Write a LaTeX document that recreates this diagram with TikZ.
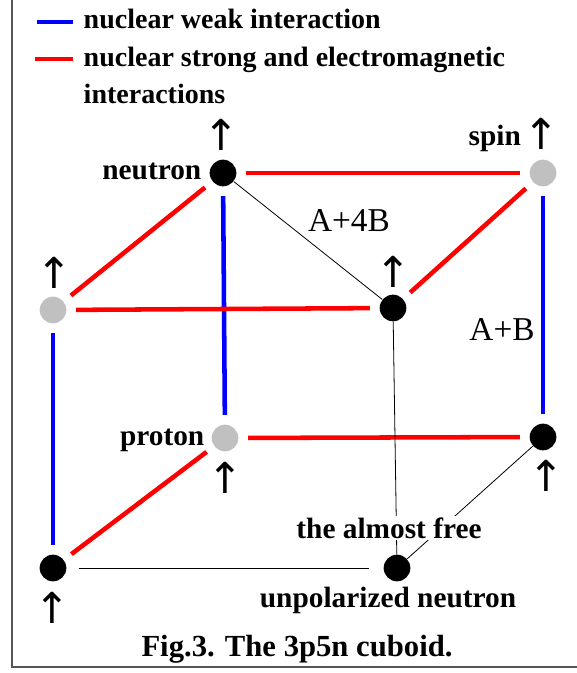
\documentclass[tikz,border=0pt]{standalone}
\usepackage{fontspec}
\setmainfont{Liberation Serif}
\newfontfamily\arrowfont{DejaVu Sans}
\usetikzlibrary{positioning}
\definecolor{wblue}{HTML}{0000FF}
\definecolor{sred}{HTML}{FF0000}
\definecolor{pgrey}{HTML}{C0C0C0}
\definecolor{frame}{HTML}{555555}
\tikzset{
  every picture/.style={line width=0.6pt},
  nucleon/.style={circle, fill=#1, minimum size=20pt, inner sep=0pt},
  nucleon/.default=black,
  weak/.style={draw=wblue, line width=3.4pt, shorten <=7pt, shorten >=7pt},
  strong/.style={draw=sred, line width=3.4pt, shorten <=7pt, shorten >=7pt},
  link/.style={draw=black, line width=0.6pt},
  legend/.style={font=\fontsize{21}{25}\selectfont\bfseries, inner sep=1pt},
  lbl/.style={font=\fontsize{22}{26}\selectfont\bfseries, inner sep=1pt},
  spinup/.style={font=\fontsize{32}{34}\arrowfont, inner sep=0pt},
  energy/.style={font=\fontsize{25}{30}\selectfont, inner sep=1pt},
}

\begin{document}
\begin{tikzpicture}[x=0.75pt, y=-0.75pt]
  \useasboundingbox (0,0) rectangle (576,673);
  \draw[frame, line width=1.5pt] (12,-5) rectangle (590,667);
  % legend
  \coordinate (lw1) at (37,22);
  \coordinate (lw2) at (73,22);
  \coordinate (ls1) at (35,59);
  \coordinate (ls2) at (73,59);
  \draw[weak, shorten <=0pt, shorten >=0pt] (lw1) -- (lw2);
  \draw[strong, shorten <=0pt, shorten >=0pt] (ls1) -- (ls2);
  \node[legend, anchor=base west] (lweak) at (82,29) {nuclear weak interaction};
  \node[legend, anchor=base west] (lstrong) at (82,67) {nuclear strong and electromagnetic};
  \node[legend, anchor=base west] (lstrong2) at (82,104) {interactions};

  % the eight corners
  \node[nucleon] (btl) at (223,173) {};
  \node[nucleon=pgrey] (btr) at (543,173) {};
  \node[nucleon=pgrey] (ftl) at (53,310) {};
  \node[nucleon] (ftr) at (393,308) {};
  \node[nucleon=pgrey] (bbl) at (225,438) {};
  \node[nucleon] (bbr) at (543,437) {};
  \node[nucleon] (fbl) at (53,568) {};
  \node[nucleon] (fbr) at (397,568) {};

  % bonds
  \draw[weak] (btl) -- (bbl);
  \draw[weak] (btr) -- (bbr);
  \draw[weak] (ftl) -- (fbl);
  \draw[strong] (btl) -- (btr);
  \draw[strong] (ftl) -- (ftr);
  \draw[strong] (bbl) -- (bbr);
  \draw[strong] (btl) -- (ftl);
  \draw[strong] (btr) -- (ftr);
  \draw[strong] (bbl) -- (fbl);
  \draw[link] (btl) -- (ftr);
  \draw[link] (ftr) -- (fbr);
  \draw[link] (bbr) -- (fbr);
  \draw[link, shorten <=9pt, shorten >=11pt] (fbl) -- (fbr);

  % labels
  \node[lbl, anchor=base east] (tneutron) at (203,180) {neutron};
  \node[lbl, anchor=base east] (tproton) at (206,445) {proton};
  \node[lbl, anchor=base west] (tspin) at (467,146) {spin};
  \node[spinup] (up0) at (541,134) {↑};
  \node[spinup] (up1) at (221,135) {↑};
  \node[spinup] (up2) at (54,273) {↑};
  \node[spinup] (up3) at (393,272) {↑};
  \node[spinup] (up4) at (225,478) {↑};
  \node[spinup] (up5) at (546,476) {↑};
  \node[spinup] (up6) at (52,608) {↑};
  \node[energy] (e1) at (349,221) {A+4B};
  \node[energy] (e2) at (502,330) {A+B};
  \node[lbl, anchor=base, fill=white] (tfree) at (389,538) {the almost free};
  \node[lbl, anchor=base] (tunpol) at (388,607) {unpolarized neutron};
  \node[lbl, font=\fontsize{23}{27}\selectfont\bfseries, anchor=base] (caption) at (297,656) {Fig.3. The 3p5n cuboid.};
\end{tikzpicture}
\end{document}
